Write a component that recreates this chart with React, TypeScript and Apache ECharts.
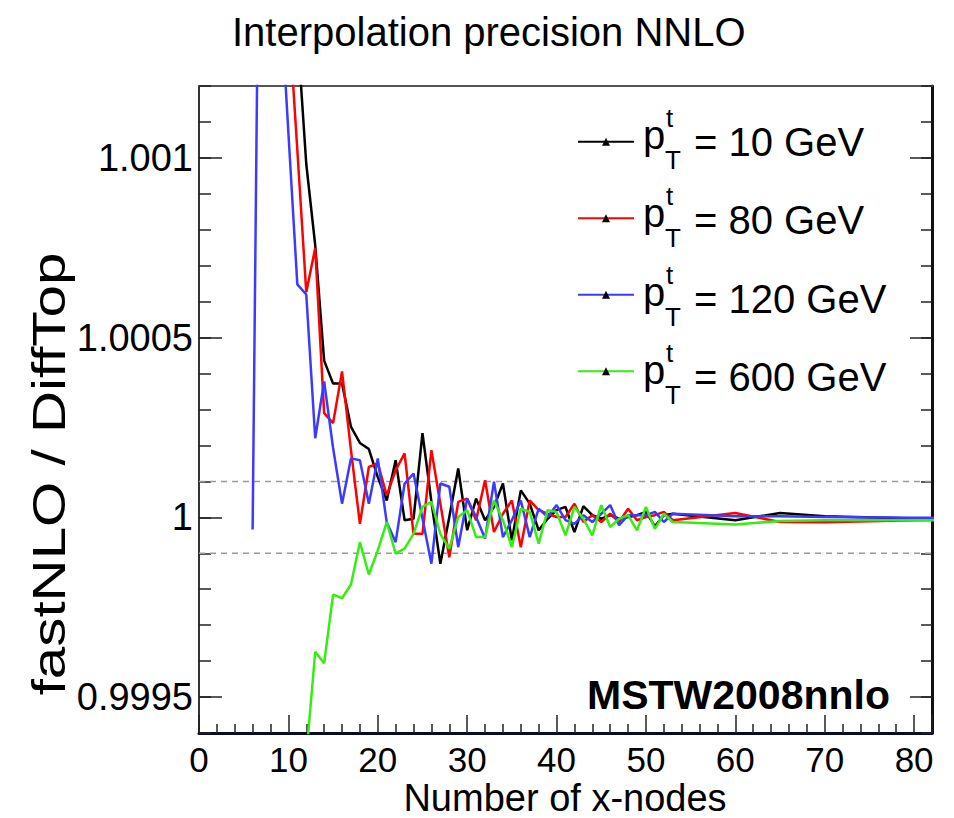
import React, { useEffect, useRef } from 'react';
import * as echarts from 'echarts';

const xNodes = [6, 7, 8, 9, 10, 11, 12, 13, 14, 15, 16, 17, 18, 19, 20, 21, 22, 23, 24, 25, 26, 27, 28, 29, 30,
  31, 32, 33, 34, 35, 36, 37, 38, 39, 40, 41, 42, 43, 44, 45, 46, 47, 48, 49, 50, 51, 52, 53, 60, 65, 70, 80, 90];

const pt10 = [null, null, null, null, 1.0019, 1.001355, 1.000983, 1.000757, 1.000436, 1.000372, 1.000372, 1.000252,
  1.000207, 1.00019, 1.000112, 1.000047, 1.000159, 0.999992, 0.999996, 1.000234, 1.000043, 0.999871, 1.000001,
  1.000136, 0.999964, 1.000052, 0.999992, 1.000029, 1.000094, 0.999936, 1.000075, 1.000038, 0.999964, 0.999996,
  1.00002, 1.000029, 0.999959, 1.000031, 1.000006, 0.999996, 1.000006, 0.999996, 1.000001, 1.000006, 1.000015,
  0.999975, 1.000006, 1.00001, 0.999992, 1.000012, 1.000003, 0.999997, 0.999997];

const pt80 = [null, null, null, null, 1.00141, 1.001022, 1.000626, 1.000749, 1.00029, 1.000262, 1.000406, 1.000187,
  0.999982, 1.00014, 1.00015, 1.000061, 1.000131, 1.000178, 0.999954, 0.999954, 1.000187, 1.000038, 0.999889,
  1.000043, 1.000052, 0.999992, 1.000103, 0.999959, 1.00001, 1.000047, 0.999917, 1.000047, 1.00002, 1.00001,
  1.000001, 1.000001, 1.000038, 0.999987, 1.000006, 0.999987, 1.00001, 0.999987, 1.000024, 0.999992, 1.000001,
  1.000006, 1.000015, 0.999992, 1.000012, 0.999987, 0.999986, 0.999992, 0.999994];

const pt120 = [0.999966, 1.00248, 1.002, 1.0015, 1.00107, 1.000648, 1.00062, 1.00022, 1.000378, 1.000193, 1.000038,
  1.000164, 1.000159, 1.000038, 1.000164, 0.999986, 0.999931, 1.000094, 1.000122, 0.999997, 0.999871, 1.000094,
  1.000085, 0.999917, 1.000052, 1.000001, 0.999941, 1.000099, 0.999945, 0.999992, 1.000047, 0.999945, 1.000024,
  1.000001, 1.000034, 0.999992, 0.999982, 1.000006, 0.999987, 1.00001, 1.000034, 0.999978, 1.000006, 1.000006,
  1.000006, 1.000015, 0.999987, 1.00001, 1.000003, 1.000003, 1.000001, 0.999999, 0.999999];

const pt600 = [null, null, null, null, null, 0.99905, 0.999335, 0.999626, 0.999594, 0.999785, 0.999775, 0.999813,
  0.999931, 0.999841, 0.999908, 0.999987, 0.999899, 0.999913, 0.999954, 1.000029, 1.000043, 0.999954, 0.999913,
  1.000001, 1.00002, 0.999945, 0.999945, 1.000047, 0.999992, 0.999917, 1.000024, 1.000015, 0.999927, 1.00002,
  1.000015, 0.99995, 1.000029, 0.999996, 0.99995, 1.000034, 0.999973, 0.999996, 1.000006, 0.999964, 1.000029,
  0.999968, 1.00001, 0.999987, 0.99998, 0.99999, 0.999992, 0.999992, 0.999992];

const seriesNames = ['10 GeV', '80 GeV', '120 GeV', '600 GeV'];
const seriesColors = ['#000000', '#ff0000', '#3b3bff', '#33ee11'];
const seriesValues = [pt10, pt80, pt120, pt600];

const yTickLabels = [0.9995, 1, 1.0005, 1.001];
const yLabelText = ['0.9995', '1', '1.0005', '1.001'];
const bandLines = [1.0001, 0.9999];
const xRange = [0, 82];

const FONT = 'Liberation Sans, Arial, Helvetica, sans-serif';

export default function App() {
  const ref = useRef<HTMLDivElement>(null);
  useEffect(() => {
    const el = ref.current!;
    const chart = echarts.init(el, null, { renderer: 'svg' });

    const bandSeries: any[] = bandLines.map((v, i) => ({
      name: 'band' + i,
      type: 'line',
      silent: true,
      showSymbol: false,
      symbol: 'none',
      z: 1,
      lineStyle: { color: '#9a9a9a', type: [6, 5], width: 1.5 },
      data: xRange.map((x) => [x, v]),
    }));

    const series: any[] = bandSeries.concat(seriesValues.map((vals, si) => ({
      name: seriesNames[si],
      type: 'line',
      xAxisIndex: 0,
      yAxisIndex: 0,
      showSymbol: false,
      symbol: 'triangle',
      symbolSize: 8,
      clip: true,
      z: 3 + si,
      itemStyle: { color: '#000' },
      lineStyle: { color: seriesColors[si], width: 2.5 },
      data: xNodes.map((x, i) => [x, vals[i]]).filter((d) => d[1] !== null),
    })));

    const yMin = 0.9994;
    const yMax = 1.0012;

    const legendTop = 142.7;
    const legendStep = 78.5;
    const legendGraphics: any[] = [];
    seriesNames.forEach((n, i) => {
      const cy = legendTop + i * legendStep;
      legendGraphics.push(
        { type: 'text', left: 643, top: cy - 28, style: { text: 'p', font: `40px ${FONT}`, fill: '#000' } },
        { type: 'text', left: 666, top: cy - 38, style: { text: 't', font: `26px ${FONT}`, fill: '#000' } },
        { type: 'text', left: 665, top: cy + 4, style: { text: 'T', font: `26px ${FONT}`, fill: '#000' } },
        { type: 'text', left: 694, top: cy - 21, style: { text: '= ' + n, font: `40px ${FONT}`, fill: '#000' } },
      );
    });

    const option: any = {
      animation: false,
      backgroundColor: '#fff',
      textStyle: { fontFamily: FONT },
      grid: { left: 199, top: 86, right: 22, bottom: 85, containLabel: false, outerBoundsMode: 'none' },
      title: {
        text: 'Interpolation precision NNLO',
        left: 232,
        top: 12,
        padding: 0,
        textStyle: { fontFamily: FONT, fontSize: 40, fontWeight: 'normal', color: '#000' },
      },
      legend: {
        orient: 'vertical',
        left: 577,
        top: legendTop - 5,
        padding: 0,
        itemWidth: 56,
        itemHeight: 10,
        itemGap: legendStep - 10,
        formatter: () => '',
        textStyle: { fontSize: 10, lineHeight: 10 },
        data: seriesNames,
        selectedMode: false,
      },
      xAxis: [
        {
          type: 'value',
          min: xRange[0],
          max: xRange[1],
          interval: 10,
          position: 'bottom',
          axisLine: { show: true, lineStyle: { color: '#0b0b25', width: 3 } },
          axisTick: { show: true, inside: true, length: 18, lineStyle: { color: '#222', width: 1.5 } },
          minorTick: { show: true, splitNumber: 5, length: 9, lineStyle: { color: '#222', width: 1.5 } },
          splitLine: { show: false },
          axisLabel: { show: true, margin: 11, fontSize: 35, lineHeight: 30, color: '#000', fontFamily: FONT,
            showMaxLabel: false },
        },
        {
          type: 'value',
          min: xRange[0],
          max: xRange[1],
          position: 'top',
          axisLine: { show: true, lineStyle: { color: '#555', width: 2 } },
          axisTick: { show: false },
          axisLabel: { show: false },
          splitLine: { show: false },
        },
      ],
      yAxis: [
        {
          type: 'value',
          min: yMin,
          max: yMax,
          interval: 0.0001,
          position: 'left',
          axisLine: { show: true, lineStyle: { color: '#333', width: 2 } },
          axisTick: { show: true, inside: true, length: 12, lineStyle: { color: '#222', width: 1.5 } },
          splitLine: { show: false },
          axisLabel: {
            show: true,
            margin: 6,
            fontSize: 38,
            color: '#000',
            fontFamily: FONT,
            formatter: (v: number) => {
              const k = yTickLabels.findIndex((t) => Math.abs(t - v) < 1e-9);
              return k >= 0 ? yLabelText[k] : '';
            },
          },
        },
        {
          type: 'value',
          min: yMin,
          max: yMax,
          position: 'left',
          axisLine: { show: false },
          axisLabel: { show: false },
          splitLine: { show: false },
          axisTick: { show: true, inside: true, length: 23, customValues: yTickLabels, lineStyle: { color: '#222', width: 1.5 } },
        },
        {
          type: 'value',
          min: yMin,
          max: yMax,
          interval: 0.0001,
          position: 'right',
          axisLine: { show: true, lineStyle: { color: '#111', width: 3 } },
          axisTick: { show: true, inside: true, length: 11, lineStyle: { color: '#222', width: 1.5 } },
          axisLabel: { show: false },
          splitLine: { show: false },
        },
        {
          type: 'value',
          min: yMin,
          max: yMax,
          position: 'right',
          axisLine: { show: false },
          axisLabel: { show: false },
          splitLine: { show: false },
          axisTick: { show: true, inside: true, length: 22, customValues: yTickLabels, lineStyle: { color: '#222', width: 1.5 } },
        },
      ],
      series,
      graphic: [
        {
          type: 'text',
          x: 565,
          y: 798,
          style: { text: 'Number of x-nodes', font: `38px ${FONT}`, lineHeight: 34, fill: '#000', textAlign: 'center', textVerticalAlign: 'middle' },
        },
        {
          type: 'text',
          x: 49,
          y: 474,
          rotation: Math.PI / 2,
          scaleX: 1.24,
          style: { text: 'fastNLO / DiffTop', font: `47px ${FONT}`, fill: '#000', textAlign: 'center', textVerticalAlign: 'middle' },
        },
        {
          type: 'text',
          x: 890,
          y: 695,
          style: { text: 'MSTW2008nnlo', font: `bold 41px ${FONT}`, fill: '#000', textAlign: 'right', textVerticalAlign: 'middle' },
        },
        ...legendGraphics,
      ],
    };

    chart.setOption(option);
    return () => chart.dispose();
  }, []);

  return <div ref={ref} style={{ position: 'fixed', left: 0, top: 0, width: 954, height: 818, background: '#fff' }} />;
}
